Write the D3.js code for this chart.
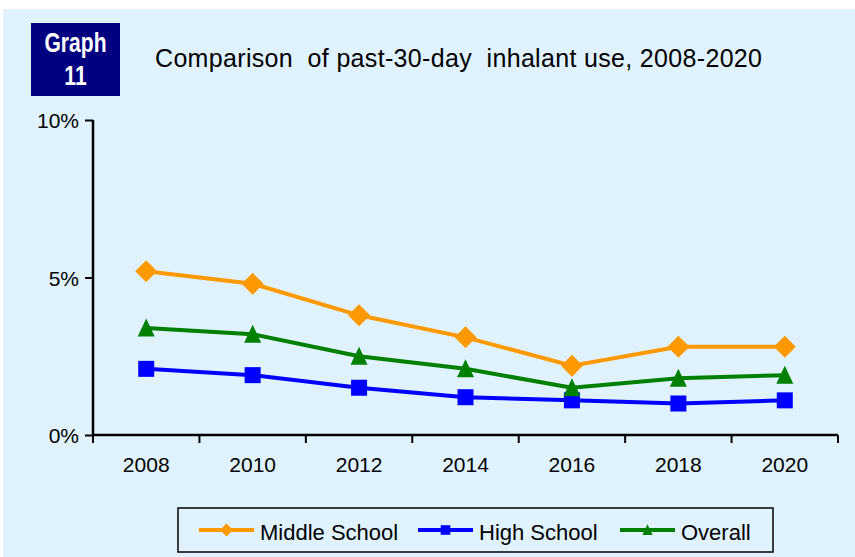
<!DOCTYPE html>
<html><head><meta charset="utf-8">
<script src="https://cdn.jsdelivr.net/npm/d3@7"></script>
<style>body{margin:0;background:#fff}svg{display:block}</style>
</head><body>
<svg id="c" width="855" height="557"></svg>
<script>
const years = ["2008","2010","2012","2014","2016","2018","2020"];
const middleSchool = [5.2, 4.8, 3.8, 3.1, 2.2, 2.8, 2.8];
const highSchool = [2.1, 1.9, 1.5, 1.2, 1.1, 1.0, 1.1];
const overall = [3.4, 3.2, 2.5, 2.1, 1.5, 1.8, 1.9];
const yTicks = [0, 5, 10];
const seriesNames = ["Middle School", "High School", "Overall"];
const seriesColors = ["#FF9900", "#0000FF", "#008000"];

const svg = d3.select("#c");
svg.append("rect").attr("x",3).attr("y",9).attr("width",852).attr("height",548).attr("fill","#E0F2FE");

// badge
svg.append("rect").attr("x",31).attr("y",23).attr("width",89).attr("height",73).attr("fill","#000080");
const badgeFont = "bold 27px 'Liberation Sans', Arial, sans-serif";
svg.append("text").attr("transform","translate(75.5,52) scale(0.78,1)").attr("text-anchor","middle").attr("fill","#fff")
  .style("font", badgeFont).text("Graph");
svg.append("text").attr("transform","translate(75.5,85) scale(0.78,1)").attr("text-anchor","middle").attr("fill","#fff")
  .style("font", badgeFont).text("11");

svg.append("text").attr("x",155).attr("y",67).attr("fill","#000")
  .attr("textLength",607).attr("lengthAdjust","spacing")
  .style("font","25px 'Liberation Sans', Arial, sans-serif").style("white-space","pre")
  .text("Comparison  of past-30-day  inhalant use, 2008-2020");

const x = d3.scaleBand().domain(years).range([93, 838]);
const y = d3.scaleLinear().domain([0, 10]).range([435, 120]);

const yAxis = svg.append("g").attr("transform","translate(93,0)")
  .call(d3.axisLeft(y).tickValues(yTicks).tickFormat(d => d + "%").tickSize(8).tickPadding(6));
const xAxis = svg.append("g").attr("transform","translate(0,435)")
  .call(d3.axisBottom(x).tickSize(0).tickPadding(22));
const bounds = years.map(d => x(d)).concat([x(years[years.length-1]) + x.bandwidth()]);
xAxis.selectAll(".bt").data(bounds).join("line").attr("class","bt")
  .attr("x1", d => d).attr("x2", d => d).attr("y1", 0).attr("y2", 8).attr("stroke","#000").attr("stroke-width",2);
[yAxis, xAxis].forEach(g => {
  g.select(".domain").attr("stroke","#000").attr("stroke-width",2.5);
  g.selectAll(".tick line").attr("stroke","#000").attr("stroke-width",2);
  g.selectAll("text").attr("fill","#000").style("font","21px 'Liberation Sans', Arial, sans-serif");
});
yAxis.selectAll("text").attr("dy","0.36em");
yAxis.select(".domain").attr("d","M0,120V435");
xAxis.select(".domain").attr("d","M93,0H838");

const cx = d => x(d) + x.bandwidth() / 2;
const data = [middleSchool, highSchool, overall];
const markerPaths = [
  k => `M0,${-11*k}L${11*k},0L0,${11*k}L${-11*k},0Z`,
  k => `M${-8*k},${-8*k}H${8*k}V${8*k}H${-8*k}Z`,
  k => `M0,${-9.5*k}L${8.5*k},${8.5*k}L${-8.5*k},${8.5*k}Z`
];
const line = d3.line().x((d,i) => cx(years[i])).y(d => y(d));

data.forEach((vals, s) => {
  svg.append("path").datum(vals).attr("d", line).attr("fill","none")
    .attr("stroke", seriesColors[s]).attr("stroke-width",4);
});
data.forEach((vals, s) => {
  svg.selectAll(".m"+s).data(vals).join("path").attr("class","m"+s)
    .attr("transform",(d,i) => `translate(${cx(years[i])},${y(d)})`)
    .attr("d", markerPaths[s](1))
    .attr("fill", seriesColors[s]);
});

// legend
const lg = svg.append("g");
lg.append("rect").attr("x",178).attr("y",508).attr("width",595).attr("height",44)
  .attr("fill","#E0F2FE").attr("stroke","#000").attr("stroke-width",1.5);
const lx = [199, 418, 620];
seriesNames.forEach((n, s) => {
  lg.append("line").attr("x1",lx[s]).attr("x2",lx[s]+55).attr("y1",530).attr("y2",530)
    .attr("stroke",seriesColors[s]).attr("stroke-width",4);
  lg.append("path").attr("transform",`translate(${lx[s]+27.5},530)`)
    .attr("d", markerPaths[s](0.6)).attr("fill",seriesColors[s]);
  lg.append("text").attr("x",lx[s]+61).attr("y",540).attr("fill","#000")
    .style("font","22px 'Liberation Sans', Arial, sans-serif").text(n);
});
</script>
</body></html>
